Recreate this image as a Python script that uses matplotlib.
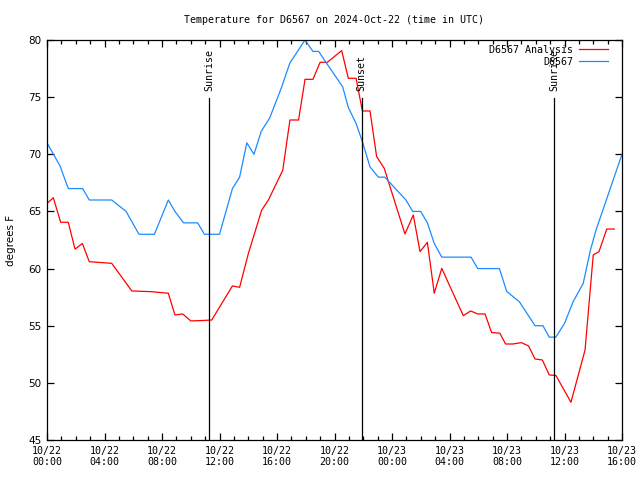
import matplotlib
matplotlib.use("Agg")
import matplotlib.pyplot as plt
from matplotlib.ticker import MultipleLocator

# Hours since 2024-10-22 00:00 UTC
obs_t = [0, 0.9, 1.48, 2.48, 2.94, 4.5, 5.5, 6.4, 7.47, 8.44, 8.9, 9.5, 10.48, 10.95,
         12.0, 12.9, 13.4, 13.9, 14.4, 14.9, 15.5, 16.3, 16.9, 17.95, 18.5, 18.9, 19.7,
         20.57, 20.96, 21.5, 21.94, 22.47, 23.05, 23.5, 24.97, 25.44, 26.0, 26.46, 26.94,
         27.46, 29.5, 29.96, 31.47, 31.98, 32.86, 33.95, 34.5, 34.94, 35.4, 36.0, 36.6,
         37.3, 37.8, 38.2, 40.0]
obs_v = [71, 69, 67, 67, 66, 66, 65, 63, 63, 66, 65, 64, 64, 63,
         63, 67, 68, 71, 70, 72, 73.2, 75.8, 78, 80, 79, 79, 77.5,
         75.9, 74.1, 72.7, 71.1, 68.9, 68, 68, 66, 65, 65, 64, 62.2,
         61, 61, 60, 60, 58, 57.1, 55, 55, 54, 54, 55.2, 57.1,
         58.7, 61.6, 63.4, 70]

ana_t = [0, 0.44, 0.95, 1.48, 1.95, 2.46, 2.94, 4.5, 5.9, 7.23, 8.44, 8.9, 9.44, 10.0,
         10.7, 11.46, 12.9, 13.4, 14.0, 14.93, 15.4, 16.4, 16.9, 17.5, 17.95, 18.5, 19.0,
         19.5, 20.5, 20.96, 21.5, 21.94, 22.47, 22.93, 23.46, 24.9, 25.48, 25.95, 26.46,
         26.94, 27.46, 28.96, 29.47, 29.96, 30.47, 30.93, 31.5, 31.9, 32.4, 33.0, 33.5,
         33.95, 34.46, 34.94, 35.4, 36.45, 37.43, 38.0, 38.4, 38.94, 39.46]
ana_v = [65.7, 66.2, 64.05, 64.05, 61.7, 62.2, 60.6, 60.46, 58.04, 57.98, 57.84, 55.94, 56.03, 55.42,
         55.45, 55.5, 58.48, 58.36, 61.28, 65.1, 66, 68.6, 73, 73, 76.56, 76.56, 78.05,
         78.05, 79.07, 76.65, 76.65, 73.79, 73.79, 69.8, 68.77, 63.03, 64.69, 61.48, 62.3,
         57.84, 60.02, 55.88, 56.29, 56.03, 56.03, 54.4, 54.35, 53.4, 53.4, 53.52, 53.23,
         52.09, 52.0, 50.69, 50.65, 48.3, 52.88, 61.2, 61.48, 63.46, 63.46]

sun_t = [11.27, 21.9, 35.27]
sun_labels = ["Sunrise", "Sunset", "Sunrise"]

xtick_labels = ["10/22\n00:00", "10/22\n04:00", "10/22\n08:00", "10/22\n12:00",
                "10/22\n16:00", "10/22\n20:00", "10/23\n00:00", "10/23\n04:00",
                "10/23\n08:00", "10/23\n12:00", "10/23\n16:00"]
yticks = [45, 50, 55, 60, 65, 70, 75, 80]

mono = "DejaVu Sans Mono"
fig = plt.figure(figsize=(6.4, 4.8), dpi=100)
ax = fig.add_axes([47/640, 40/480, 575/640, 400/480])

ax.plot(ana_t, ana_v, color="#ff0000", lw=0.9, label="D6567 Analysis")
ax.plot(obs_t, obs_v, color="#1a8cff", lw=0.9, label="D6567")

for t, lab in zip(sun_t, sun_labels):
    ax.plot([t, t], [45, 74.9], color="black", lw=0.9)
    ax.text(t, 75.5, lab, rotation=90, ha="center", va="bottom",
            family=mono, fontsize=7.2)

ax.set_xlim(0, 40)
ax.set_ylim(45, 80)
ax.set_xticks(range(0, 41, 4))
ax.set_xticklabels(xtick_labels, family=mono, fontsize=7.2)
ax.xaxis.set_minor_locator(MultipleLocator(1))
ax.set_yticks(yticks)
ax.set_yticklabels([str(v) for v in yticks], family="DejaVu Sans", fontsize=7.5)
ax.tick_params(which="both", direction="in", top=True, right=True, width=0.9)
ax.tick_params(which="major", length=5, pad=4)
ax.tick_params(which="minor", length=3)
for s in ax.spines.values():
    s.set_linewidth(0.9)

ax.set_ylabel("degrees F", family="DejaVu Sans", fontsize=7.5, labelpad=9)
ax.set_title("Temperature for D6567 on 2024-Oct-22 (time in UTC)",
             family=mono, fontsize=7.2, pad=12)

leg = ax.legend(loc="upper right", frameon=False, prop={"family": mono, "size": 7.2},
                markerfirst=False, handlelength=2.9, handletextpad=0.6,
                borderaxespad=0.1, labelspacing=0.2, bbox_to_anchor=(0.985, 1.0))
for txt in leg.get_texts():
    txt.set_ha("right")

fig.savefig("out.png", dpi=100)
